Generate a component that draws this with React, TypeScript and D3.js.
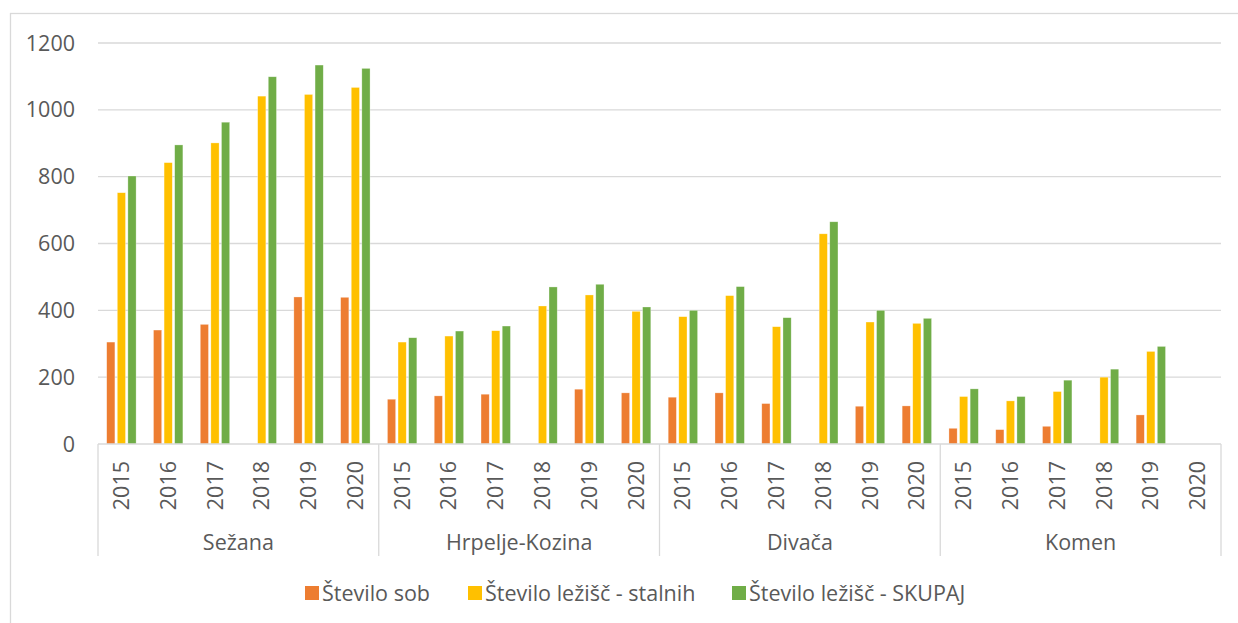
import React from 'react';
import * as d3 from 'd3';

const municipalities = ['Sežana', 'Hrpelje-Kozina', 'Divača', 'Komen'];
const years = ['2015', '2016', '2017', '2018', '2019', '2020'];
const seriesNames = ['Število sob', 'Število ležišč - stalnih', 'Število ležišč - SKUPAJ'];
const seriesColors = ['#ED7D31', '#FFC000', '#70AD47'];

// per municipality, 2015..2020 (null = no value)
const steviloSob = [
  305, 341, 358, null, 440, 439,
  134, 144, 149, null, 164, 153,
  140, 153, 121, null, 113, 114,
  47, 43, 53, null, 87, null,
];
const lezisceStalnih = [
  752, 842, 901, 1041, 1046, 1067,
  305, 323, 339, 413, 446, 397,
  381, 444, 351, 629, 365, 361,
  142, 129, 157, 200, 277, null,
];
const lezisceSkupaj = [
  802, 895, 963, 1099, 1134, 1124,
  318, 338, 353, 470, 478, 410,
  400, 471, 378, 665, 400, 376,
  165, 142, 191, 224, 292, null,
];
const yTicks = [0, 200, 400, 600, 800, 1000, 1200];

const W = 1238;
const H = 623;
const left = 98;
const right = 1221;
const top = 43;
const bottom = 444;
const font = '"Open Sans", sans-serif';
const fs = 21.5;
const textColor = '#595959';
const gridColor = '#D9D9D9';

export default function App() {
  const slots = municipalities.flatMap((m) => years.map((y) => `${m}|${y}`));
  const x = d3.scaleBand<string>().domain(slots).range([left, right]).padding(0);
  const xGroup = d3.scaleBand<string>().domain(municipalities).range([left, right]).padding(0);
  const xInner = d3.scaleBand<number>().domain([0, 1, 2]).range([-14.7, 14.7]).paddingInner(0.226);
  const y = d3.scaleLinear().domain([0, 1200]).range([bottom, top]);

  const all = [steviloSob, lezisceStalnih, lezisceSkupaj];

  return (
    <svg width={W} height={H} style={{ position: 'absolute', left: 0, top: 0, background: '#fff' }}>
      <rect x={10.5} y={13.5} width={W + 20} height={H + 20} fill="#fff" stroke={gridColor} strokeWidth={1.3} />
      {yTicks.map((t) => (
        <g key={t}>
          {t > 0 && (
            <line x1={left} x2={right} y1={y(t)} y2={y(t)} stroke={gridColor} strokeWidth={1.3} />
          )}
          <text x={75} y={y(t)} dy="0.35em" textAnchor="end" fontFamily={font} fontSize={fs} fill={textColor}>
            {t}
          </text>
        </g>
      ))}

      {/* bars */}
      {all.map((vals, si) => (
        <g key={si} fill={seriesColors[si]}>
          {vals.map((v, i) =>
            v == null ? null : (
              <rect
                key={i}
                x={(x(slots[i]) as number) + x.bandwidth() / 2 + (xInner(si) as number)}
                y={y(v)}
                width={xInner.bandwidth()}
                height={bottom - y(v)}
                stroke="#fff"
                strokeOpacity={0.5}
                strokeWidth={0.6}
              />
            )
          )}
        </g>
      ))}

      {/* category axis */}
      <line x1={left} x2={right} y1={bottom} y2={bottom} stroke={gridColor} strokeWidth={1.3} />
      {municipalities.map((m) => (
        <line
          key={m}
          x1={xGroup(m)}
          x2={xGroup(m)}
          y1={bottom}
          y2={556}
          stroke={gridColor}
          strokeWidth={1.3}
        />
      ))}
      <line x1={right} x2={right} y1={bottom} y2={556} stroke={gridColor} strokeWidth={1.3} />
      {slots.map((s) => {
        const cx = (x(s) as number) + x.bandwidth() / 2;
        return (
          <text
            key={s}
            transform={`translate(${cx},461) rotate(-90)`}
            dy="0.35em"
            textAnchor="end"
            fontFamily={font}
            fontSize={fs}
            fill={textColor}
          >
            {s.split('|')[1]}
          </text>
        );
      })}
      {municipalities.map((m) => (
        <text
          key={m}
          x={(xGroup(m) as number) + xGroup.bandwidth() / 2}
          y={542}
          dy="0.35em"
          textAnchor="middle"
          fontFamily={font}
          fontSize={fs}
          fill={textColor}
        >
          {m}
        </text>
      ))}

      {/* legend */}
      {seriesNames.map((n, i) => {
        const lx = [305, 468, 732][i];
        return (
          <g key={n}>
            <rect x={lx} y={586} width={14} height={14} fill={seriesColors[i]} />
            <text x={lx + 17} y={593} dy="0.35em" fontFamily={font} fontSize={fs} fill={textColor}>
              {n}
            </text>
          </g>
        );
      })}
    </svg>
  );
}
